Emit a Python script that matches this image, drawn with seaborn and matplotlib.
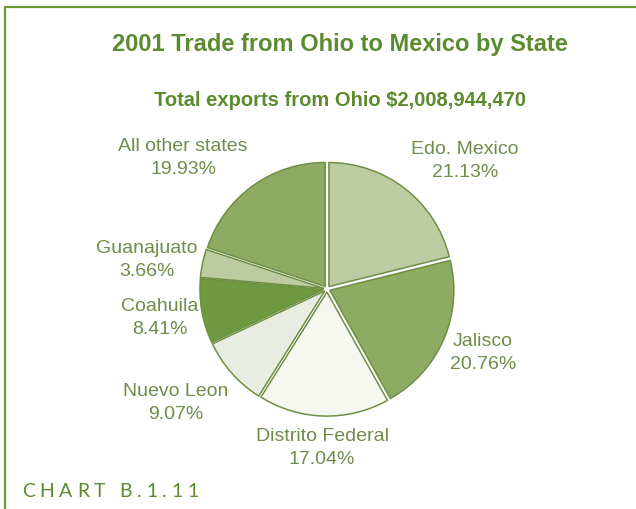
import matplotlib
matplotlib.use("Agg")
import matplotlib.pyplot as plt
import seaborn as sns

# Share of Ohio's 2001 exports to Mexico, by destination state (percent)
states = ["Edo. Mexico", "Jalisco", "Distrito Federal", "Nuevo Leon",
          "Coahuila", "Guanajuato", "All other states"]
shares = [21.13, 20.76, 17.04, 9.07, 8.41, 3.66, 19.93]
title = "2001 Trade from Ohio to Mexico by State"
subtitle = "Total exports from Ohio $2,008,944,470"
chart_tag = "CHART B.1.11"

sns.set_theme(style="white")
plt.rcParams["font.family"] = ["Liberation Sans", "DejaVu Sans"]

wedge_colors = ["#bccca0", "#8eab63", "#f6f7f0", "#e9ece0",
                "#6f993f", "#bccca0", "#8eab63"]
edge_green = "#6f8f45"
label_green = "#6f8c48"
title_green = "#5c8a2e"

W, H = 636, 510
fig = plt.figure(figsize=(W / 100, H / 100), dpi=100)
fig.patch.set_facecolor("white")

def fx(px):
    return px / W

def fy(py):
    return 1 - py / H

# Frame: green rule across the top and down the left side
fig.add_artist(plt.Line2D([fx(5), 1.0], [fy(8), fy(8)], color="#6a9a35", lw=1.6))
fig.add_artist(plt.Line2D([fx(5), fx(5)], [fy(8), 0.0], color="#6a9a35", lw=1.6))

fig.text(fx(340), fy(45), title, ha="center", va="center",
         fontsize=17, fontweight="bold", color=title_green)
fig.text(fx(340), fy(100), subtitle, ha="center", va="center",
         fontsize=14.5, fontweight="bold", color=title_green)

# Pie axes: center at (327, 290) px, radius 124 px
cx, cy, r_px, half = 327, 290, 124, 150
ax = fig.add_axes([fx(cx - half), fy(cy + half), 2 * half / W, 2 * half / H])
lim = half / r_px
ax.pie(shares, colors=wedge_colors, startangle=90, counterclock=False,
       explode=[0.025] * len(shares), radius=1.0,
       wedgeprops=dict(edgecolor=edge_green, linewidth=1.1))
ax.set_xlim(-lim, lim)
ax.set_ylim(-lim, lim)
ax.set_aspect("equal")
ax.axis("off")

# Slice labels (name + share), placed around the pie
label_pos = [(465, 161), (483, 353), (322, 448), (176, 403),
             (160, 318), (147, 260), (183, 158)]
for name, val, (px, py) in zip(states, shares, label_pos):
    fig.text(fx(px), fy(py), f"{name}\n{val:.2f}%", ha="center", va="center",
             fontsize=14, color=label_green, linespacing=1.45)

# Letter-spaced chart tag, laid out one character at a time
renderer = fig.canvas.get_renderer()
x_cursor = 22.0
tracking = 4.8
for ch in chart_tag:
    if ch == " ":
        x_cursor += 9
        continue
    t = fig.text(fx(x_cursor), fy(492), ch, ha="left", va="center",
                 fontsize=14, color=title_green, family=["Lato", "DejaVu Sans"])
    x_cursor += t.get_window_extent(renderer).width + tracking

fig.savefig("out.png", dpi=100, facecolor="white")
